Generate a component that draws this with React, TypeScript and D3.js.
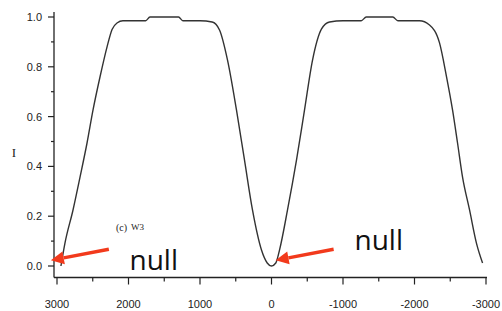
import React from "react";
import * as d3 from "d3";

// Beam pattern (W3): position vs intensity I
const positions: number[] = [
  2945, 2890, 2776, 2678, 2580, 2496, 2398, 2300, 2230, 2161, 2077, 1900, 1760, 1700,
  1300, 1240, 1000, 830, 727, 615, 490, 378, 266, 140, 60, 0,
  -60, -112, -224, -350, -462, -574, -700, -812, -1000, -1255, -1325, -1697, -1767,
  -2070, -2210, -2350, -2448, -2532, -2602, -2672, -2770, -2868, -2952,
];
const intensity: number[] = [
  0.0, 0.09, 0.225, 0.357, 0.494, 0.627, 0.76, 0.88, 0.95, 0.976, 0.985, 0.985, 0.985, 1.0,
  1.0, 0.985, 0.985, 0.98, 0.948, 0.827, 0.627, 0.426, 0.225, 0.064, 0.012, 0.0,
  0.012, 0.064, 0.225, 0.426, 0.627, 0.827, 0.952, 0.98, 0.985, 0.985, 1.0, 1.0, 0.985,
  0.985, 0.968, 0.896, 0.76, 0.627, 0.494, 0.357, 0.225, 0.09, 0.012,
];

const xTicks: number[] = [3000, 2000, 1000, 0, -1000, -2000, -3000];
const xMinorTicks: number[] = [2500, 1500, 500, -500, -1500, -2500];
const yTicks: number[] = [0, 0.2, 0.4, 0.6, 0.8, 1.0];
const yMinorTicks: number[] = [0.1, 0.3, 0.5, 0.7, 0.9];

// annotations: null markers (data coords of arrow tips) and labels
const nullPoints: number[] = [3030, -30];
const nullLevels: number[] = [0.025, 0.025];

export default function App() {
  const W = 502;
  const H = 311;
  const x = d3.scaleLinear().domain([3000, -3000]).range([57, 486]);
  const y = d3.scaleLinear().domain([0, 1]).range([266, 17]);

  const pts: [number, number][] = positions.map((p, i) => [p, intensity[i]]);
  const line = d3
    .line<[number, number]>()
    .x((d) => x(d[0]))
    .y((d) => y(d[1]))
    .curve(d3.curveMonotoneX);

  const axisX0 = 54;
  const axisY0 = 277.5;
  const tickFont = "'Liberation Sans', Arial, sans-serif";
  const red = "#f23a1c";

  // arrows: tail offsets in pixels relative to tip
  const arrows = nullPoints.map((p, i) => {
    const tx = x(p) + (i === 0 ? -4 : 2);
    const ty = y(nullLevels[i]) + 0.5;
    const sx = tx + 58;
    const sy = ty - 11;
    const ang = Math.atan2(ty - sy, tx - sx);
    const hl = 13;
    const hw = 6.5;
    const bx = tx - hl * Math.cos(ang);
    const by = ty - hl * Math.sin(ang);
    const px = -Math.sin(ang);
    const py = Math.cos(ang);
    const head = `M${tx},${ty} L${bx + hw * px},${by + hw * py} L${bx - hw * px},${by - hw * py} Z`;
    return { sx, sy, bx, by, head };
  });

  return (
    <svg
      width={W}
      height={H}
      style={{ position: "absolute", left: 0, top: 0, background: "#fff" }}
    >
      <rect x={0} y={0} width={W} height={H} fill="#fff" />
      {/* y axis */}
      <line x1={axisX0} x2={axisX0} y1={12} y2={axisY0} stroke="#222" strokeWidth={1.3} />
      {yTicks.map((t) => (
        <g key={"yt" + t}>
          <line x1={axisX0 - 6} x2={axisX0} y1={y(t)} y2={y(t)} stroke="#222" strokeWidth={1.2} />
          <text
            x={42}
            y={y(t) + 4}
            textAnchor="end"
            fontFamily={tickFont}
            fontSize={11}
            fill="#222"
          >
            {t.toFixed(1)}
          </text>
        </g>
      ))}
      {yMinorTicks.map((t) => (
        <line key={"ym" + t} x1={axisX0 - 3} x2={axisX0} y1={y(t)} y2={y(t)} stroke="#222" strokeWidth={1.2} />
      ))}
      <text x={14} y={157} textAnchor="middle" fontFamily="'Liberation Serif', serif" fontSize={13} fill="#222">
        I
      </text>

      {/* x axis */}
      <line x1={axisX0} x2={487} y1={axisY0} y2={axisY0} stroke="#222" strokeWidth={1.6} />
      {xTicks.map((t) => (
        <g key={"xt" + t}>
          <line x1={x(t)} x2={x(t)} y1={axisY0} y2={axisY0 + 7} stroke="#222" strokeWidth={1.2} />
          <text
            x={x(t)}
            y={308}
            textAnchor="middle"
            fontFamily={tickFont}
            fontSize={11}
            fill="#222"
          >
            {t === 0 ? "0" : t < 0 ? "-" + Math.abs(t) : String(t)}
          </text>
        </g>
      ))}
      {xMinorTicks.map((t) => (
        <line key={"xm" + t} x1={x(t)} x2={x(t)} y1={axisY0} y2={axisY0 + 4} stroke="#222" strokeWidth={1.2} />
      ))}

      {/* curve */}
      <path d={line(pts) || ""} fill="none" stroke="#333" strokeWidth={1.4} />

      {/* panel label */}
      <text x={116} y={231} fontFamily="'Liberation Serif', serif" fontSize={10} fill="#222">
        (c)
      </text>
      <text x={131} y={230} fontFamily="'Liberation Serif', serif" fontSize={9} fill="#222">
        W3
      </text>

      {/* arrows */}
      {arrows.map((a, i) => (
        <g key={"ar" + i}>
          <line x1={a.sx} y1={a.sy} x2={a.bx} y2={a.by} stroke={red} strokeWidth={3.5} />
          <path d={a.head} fill={red} />
        </g>
      ))}
      <text x={129.5} y={270} fontFamily="'Open Sans', sans-serif" fontSize={28} fill="#111">
        null
      </text>
      <text x={354.5} y={250} fontFamily="'Open Sans', sans-serif" fontSize={28} fill="#111">
        null
      </text>
    </svg>
  );
}
